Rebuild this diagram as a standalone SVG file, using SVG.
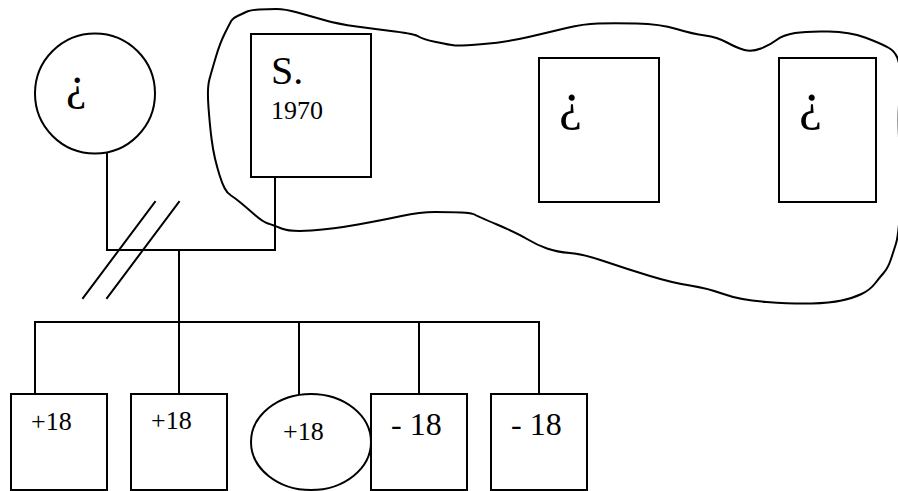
<svg xmlns="http://www.w3.org/2000/svg" width="898" height="491" viewBox="0 0 898 491">
<style>
.sh{fill:#fff;stroke:#000;stroke-width:2}
.ln{fill:none;stroke:#000;stroke-width:2;stroke-linecap:square}
.blob{fill:none;stroke:#000;stroke-width:2;stroke-linejoin:round}
.t{font-family:'Liberation Serif','Times New Roman',serif;fill:#000}
</style>
<rect width="898" height="491" fill="#fff"/>
<g id="group-outline">
<path class="blob" d="M237.5,16 Q242,14 246,12 Q250,10 259,9.5 Q268,9 276.5,9 Q285,9 297.5,12.5 Q310,16 324,20 Q338,24 356.5,26.5 Q375,29 395,31.5 Q415,34 418.5,36.5 Q422,39 436,42 Q450,45 455,45.5 Q460,46 483.5,44 Q507,42 528.5,37 Q550,32 566.5,28 Q583,24 598,23.5 Q613,23 636.5,23.5 Q660,24 676.5,29 Q693,34 705,35.5 Q717,37 727,42.5 Q737,48 744.5,50 Q752,52 761,48.5 Q770,45 776.5,40 Q783,35 795,33 Q807,31 828.5,31.5 Q850,32 865,37.5 Q880,43 889,48 Q898,53 899.5,66.5 Q901,80 899.5,97.5 Q898,115 899,137.5 Q900,160 900.5,180 Q901,200 899.5,218.5 Q898,237 896,243.5 Q894,250 891,259 Q888,268 884,272.5 Q880,277 875,283.5 Q870,290 861.5,294 Q853,298 841.5,300.5 Q830,303 811.5,303.5 Q793,304 766.5,302 Q740,300 723.5,294 Q707,288 690,285.5 Q673,283 650,276 Q627,269 605,261.5 Q583,254 570,253 Q557,252 547,248.5 Q537,245 527,239 Q517,233 497,224.5 Q477,216 474.5,214.5 Q472,213 461,212.5 Q450,212 435,212 Q420,212 401.5,216 Q383,220 358,224.5 Q333,229 311.5,230.5 Q290,232 281.5,228.5 Q273,225 268,223.5 Q263,222 255,215 Q247,208 241,203 Q235,198 231,195.5 Q227,193 224.5,188 Q222,183 219.5,175 Q217,167 215,158.5 Q213,150 211.5,138.5 Q210,127 208.5,107.5 Q207,88 209.5,79 Q212,70 216,56.5 Q220,43 225,33 Q230,23 231.5,20.5 Q233,18 237.5,16 Z"/>
</g>
<g id="connectors">
<path class="ln" d="M107,154 V250 H275 V177"/>
<path class="ln" d="M179,250 V322"/>
<path class="ln" d="M35,394 V322 H539 V394"/>
<path class="ln" d="M179,322 V394"/>
<path class="ln" d="M299,322 V394"/>
<path class="ln" d="M419,322 V394"/>
<line class="ln" x1="155" y1="202" x2="83" y2="298"/>
<line class="ln" x1="179" y1="202" x2="107" y2="298"/>
</g>
<g id="mother">
<circle class="sh" cx="95" cy="93.5" r="60"/>
<text class="t" x="66" y="99" font-size="46">¿</text>
</g>
<g id="father">
<rect class="sh" x="251" y="34" width="120" height="143"/>
<text class="t" x="271" y="84" font-size="40">S.</text>
<text class="t" x="271" y="119" font-size="26">1970</text>
</g>
<g id="partner1">
<rect class="sh" x="539" y="58" width="120" height="144"/>
<text class="t" x="559" y="119" font-size="52">¿</text>
</g>
<g id="partner2">
<rect class="sh" x="779" y="58" width="97" height="144"/>
<text class="t" x="799" y="119" font-size="52">¿</text>
</g>
<g id="child1">
<rect class="sh" x="11" y="394" width="96" height="96"/>
<text class="t" x="31" y="430" font-size="26">+18</text>
</g>
<g id="child2">
<rect class="sh" x="131" y="394" width="96" height="96"/>
<text class="t" x="151" y="429" font-size="26">+18</text>
</g>
<g id="child3">
<ellipse class="sh" cx="311" cy="442" rx="60" ry="48"/>
<text class="t" x="283" y="440" font-size="26">+18</text>
</g>
<g id="child4">
<rect class="sh" x="371" y="394" width="96" height="96"/>
<text class="t" x="391" y="435" font-size="32">- 18</text>
</g>
<g id="child5">
<rect class="sh" x="491" y="394" width="96" height="96"/>
<text class="t" x="511" y="435" font-size="32">- 18</text>
</g>
</svg>
